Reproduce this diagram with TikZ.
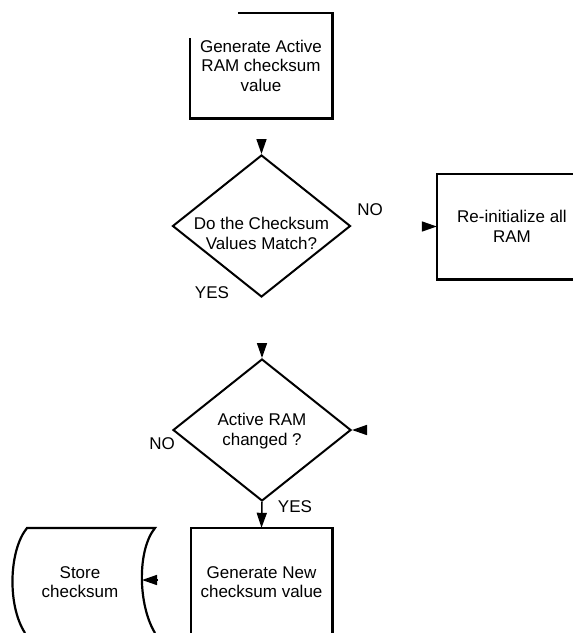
\documentclass[tikz,border=0pt]{standalone}
\usepackage{fontspec}
\setmainfont{Liberation Sans}
\usetikzlibrary{shapes.geometric,arrows.meta}

\begin{document}
\begin{tikzpicture}[x=1pt,y=-1pt,
    txt/.style={align=center,inner sep=0pt,font=\fontsize{17}{19.5}\selectfont},
    procbox/.style={txt,minimum width=142pt,minimum height=105pt},
    decision/.style={diamond,draw,line width=2pt,inner sep=0pt,minimum width=178pt,minimum height=142pt},
    outline/.style={line width=2.6pt},
    arr/.style={line width=1.5pt,-{Triangle[length=15pt,width=10pt]}}]
    \useasboundingbox (0,0) rectangle (573,633);
    \coordinate (rim) at (573,633); % right and bottom edge

    % Generate active checksum box
    \node[procbox] (genact) at (261,65.5) {Generate Active\\RAM checksum\\value};
    \draw[outline] ([xshift=48pt]genact.north west) -- (genact.north east) -- (genact.south east)
        -- (genact.south west) -- ([yshift=-25pt]genact.north west);

    % First decision
    \node[decision] (match) at (261.5,226) {};
    \node[txt] (matchtxt) at (261.5,233.5) {Do the Checksum\\Values Match?};
    \node[txt] (matchno) at (370,210) {NO};
    \node[txt] (matchyes) at (212,293) {YES};

    % Re-initialize box
    \node[txt,minimum width=150pt,minimum height=105pt] (reinit) at (512,226.5) {Re-initialize all\\RAM};
    \draw[outline] (reinit.north west -| rim) -- (reinit.north west) -- (reinit.south west) -- (reinit.south west -| rim);

    % Second decision
    \node[decision] (changed) at (262,430) {};
    \node[txt] (changedtxt) at (262,431) {Active RAM\\changed ?};
    \node[txt] (changedno) at (162,444) {NO};
    \node[txt] (changedyes) at (295,507) {YES};

    % Generate new checksum box
    \node[txt,minimum width=141pt,minimum height=108pt] (newsum) at (261.5,582) {Generate New\\checksum value};
    \draw[outline] (newsum.west |- rim) -- (newsum.north west) -- (newsum.north east) -- (newsum.east |- rim);

    % Store checksum
    \node[txt] (store) at (80,582) {Store\\checksum};
    \draw[line width=2.2pt] (25,633) .. controls (7,605) and (9,550) .. (27,528) -- (155,528)
        .. controls (137,550) and (138,605) .. (155,633);

    % Arrows
    \coordinate (a1) at (261.5,140);
    \coordinate (a2) at (422,226.5);
    \coordinate (a3) at (262,343);
    \coordinate (a4) at (366,430);
    \coordinate (a6) at (158,580);
    \coordinate (storein) at (142,580);
    \draw[arr] (a1) -- (match.north);
    \draw[arr] (a2) -- (reinit.west);
    \draw[arr] (a3) -- (changed.north);
    \draw[arr] (a4) -- (changed.east);
    \draw[arr] (changed.south) -- (newsum.north);
    \draw[arr] (a6) -- (storein);
\end{tikzpicture}
\end{document}
